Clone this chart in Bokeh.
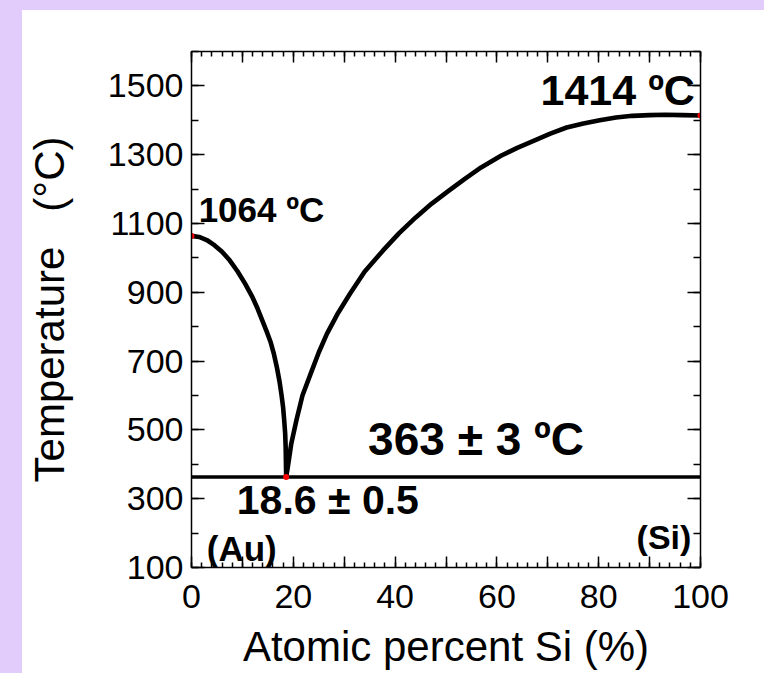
from bokeh.plotting import figure
from bokeh.models import (Range1d, LinearAxis, FixedTicker, CustomJSTickFormatter, Spacer)
from bokeh.core.properties import value
from bokeh.layouts import column, row
from bokeh.embed import file_html
from bokeh.resources import INLINE

FONT = "Liberation Sans"
LAV = "#E2CCFC"

# ---- data ----
x_ticks = [0, 10, 20, 30, 40, 50, 60, 70, 80, 90, 100]
x_minor = list(range(0, 101, 2))
y_ticks = [100, 300, 500, 700, 900, 1100, 1300, 1500]
y_minor = list(range(100, 1601, 100))

# liquidus on the Au side
liq_au_x = [0, 1.5, 3, 4.5, 6, 7.5, 9, 10.5, 12, 13, 14, 14.8, 15.5, 16.2, 16.8,
            17.3, 17.7, 18.0, 18.2, 18.4, 18.5, 18.6]
liq_au_y = [1064, 1061, 1052, 1037, 1018, 993, 962, 926, 885, 852, 815, 785, 757,
            720, 680, 640, 600, 565, 530, 490, 450, 363]

# liquidus on the Si side
liq_si_x = [18.6, 19.0, 19.6, 20.6, 21.8, 23.4, 25.0, 26.6, 28.8, 31.1, 34.0, 37.6,
            40.8, 44.0, 47.2, 50.5, 53.7, 56.9, 60.8, 64.0, 67.2, 70.5, 73.7, 77.0,
            80.2, 83.4, 86.6, 90.0, 93.1, 96.5, 100]
liq_si_y = [363, 400, 460, 527, 600, 663, 725, 779, 840, 895, 960, 1021,
            1072, 1117, 1158, 1195, 1230, 1263, 1297, 1320, 1340, 1361, 1379, 1391,
            1400, 1408, 1413, 1415, 1416, 1415, 1414]

eut_x = [0, 100]
eut_y = [363, 363]

pts_x = [0, 18.6, 100]
pts_y = [1064, 363, 1414]

p = figure(width=742, height=663, x_range=Range1d(0, 100), y_range=Range1d(100, 1600),
           output_backend="svg", toolbar_location=None,
           x_axis_location=None, y_axis_location=None,
           min_border_left=161, min_border_right=64, min_border_top=41, min_border_bottom=106)
p.grid.visible = False
p.outline_line_color = None
p.background_fill_color = "white"
p.border_fill_color = "white"


def style(ax, major_len, minor_len, labels):
    ax.axis_line_color = "black"
    ax.axis_line_width = 1.5
    ax.major_tick_in = major_len
    ax.major_tick_out = 0
    ax.minor_tick_in = minor_len
    ax.minor_tick_out = 0
    ax.major_tick_line_color = "black"
    ax.minor_tick_line_color = "black"
    ax.major_tick_line_width = 1.5
    ax.minor_tick_line_width = 1.5
    ax.major_label_text_font = FONT
    ax.major_label_text_font_size = "34px"
    ax.major_label_text_color = "black"
    if not labels:
        ax.formatter = CustomJSTickFormatter(code="return ''")


xt = FixedTicker(ticks=x_ticks, minor_ticks=x_minor)
yt = FixedTicker(ticks=y_ticks, minor_ticks=y_minor)

bottom = LinearAxis(ticker=xt)
style(bottom, 11, 5, True)
bottom.formatter = CustomJSTickFormatter(code="return (tick % 20 == 0) ? tick.toFixed(0) : ''")
bottom.major_label_standoff = 17
bottom.axis_label = "Atomic percent Si (%)"
bottom.axis_label_text_font = FONT
bottom.axis_label_text_font_size = "42px"
bottom.axis_label_text_font_style = "normal"
bottom.axis_label_text_color = "black"
bottom.axis_label_standoff = 12
p.add_layout(bottom, "below")

top = LinearAxis(ticker=xt)
style(top, 11, 5, False)
p.add_layout(top, "above")

left = LinearAxis(ticker=yt)
style(left, 13, 7, True)
left.major_label_standoff = 8
left.axis_label = "Temperature\u00a0\u00a0\u00a0(°C)"
left.axis_label_text_font = FONT
left.axis_label_text_font_size = "42px"
left.axis_label_text_font_style = "normal"
left.axis_label_text_color = "black"
left.axis_label_standoff = 32
p.add_layout(left, "left")

right = LinearAxis(ticker=yt)
style(right, 13, 7, False)
p.add_layout(right, "right")

# curves
p.line(x=eut_x, y=eut_y, line_color="black", line_width=3.5)
p.line(x=liq_au_x, y=liq_au_y, line_color="black", line_width=4.6, line_join="round")
p.line(x=liq_si_x, y=liq_si_y, line_color="black", line_width=4.6, line_join="round")
p.scatter(x=pts_x, y=pts_y, size=6, color="red", line_color=None)


def lab(x, y, text, size, align="left"):
    p.text(x=[x], y=[y], text=[text], text_font=value(FONT), text_font_size=value(size),
           text_font_style="bold", text_align=align, text_baseline="alphabetic",
           text_color="black")


lab(1.4, 1140, "1064 ºC", "35px")
lab(98.9, 1488, "1414 ºC", "43px", align="right")
lab(34.7, 474, "363 ± 3 ºC", "46px")
lab(8.9, 295, "18.6 ± 0.5", "41px")
lab(3.0, 156, "(Au)", "35px")
lab(98.2, 189, "(Si)", "34px", align="right")

layout = column(
    Spacer(width=764, height=10, styles={"background-color": LAV}),
    row(Spacer(width=22, height=663, styles={"background-color": LAV}), p),
)

open("out.html", "w").write(file_html(layout, INLINE))
